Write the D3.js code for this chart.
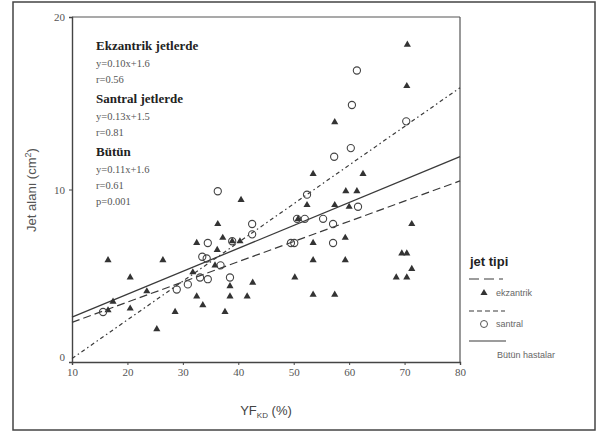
<!DOCTYPE html>
<html>
<head>
<meta charset="utf-8">
<script src="https://cdn.jsdelivr.net/npm/d3@7"></script>
<style>
  body { margin: 0; background: #fff; }
  svg { display: block; }
</style>
</head>
<body>
<svg id="chart" width="600" height="432"></svg>
<script>
// ekzantrik jets (filled triangles) [YF_KD %, jet area cm2]
const ekzantrik = [
  [16.5,5.9],[26.4,5.9],[20.5,4.9],[17.4,3.5],[16.5,3.0],[20.5,3.1],[23.5,4.1],
  [28.6,2.9],[25.3,1.9],[32.5,3.8],[33.6,3.3],[37.6,2.9],[38.5,3.8],[41.6,3.8],
  [38.5,4.4],[42.6,4.6],[32.5,6.9],[31.8,5.2],[37.2,7.2],[40.3,7.0],[36.2,6.5],
  [36.3,8.0],[40.5,9.4],[38.9,7.0],[35.8,5.6],[50.2,4.9],[53.5,3.9],[57.4,3.9],
  [53.5,5.9],[53.5,6.9],[59.3,5.9],[59.3,7.2],[57.4,9.1],[59.4,9.9],[61.4,9.9],
  [62.5,10.9],[53.5,10.9],[57.4,13.9],[70.5,18.4],[70.4,16.0],[71.3,8.0],
  [69.5,6.3],[70.4,6.3],[71.3,5.4],[68.5,4.9],[70.4,4.9],[50.8,8.3],[52.4,9.1],
  [60.0,9.0]
];
// santral jets (open circles)
const santral = [
  [15.6,2.9],[28.9,4.2],[30.9,4.5],[33.1,4.9],[34.5,4.8],[38.5,4.9],[33.5,6.1],
  [34.3,6.0],[36.8,5.6],[34.5,6.9],[36.3,9.9],[38.9,7.0],[42.5,8.0],[42.5,7.4],
  [49.5,6.9],[50.1,6.9],[50.6,8.3],[52.0,8.3],[52.4,9.7],[55.3,8.3],[57.1,8.0],
  [57.1,6.9],[61.6,9.0],[61.4,16.9],[60.5,14.9],[70.3,13.95],[60.3,12.4],[57.3,11.9]
];
// fitted lines as drawn (end points)
const lineEkz = [[10,2.3],[80,10.5]];
const lineSan = [[10,0.2],[80,15.9]];
const lineAll = [[10,2.6],[80,11.9]];

const xTicks = [10,20,30,40,50,60,70,80];
const yTicks = [0,10,20];

const notes = [
  {t: "Ekzantrik jetlerde", b: true},
  {t: "y=0.10x+1.6"}, {t: "r=0.56"},
  {t: "Santral jetlerde", b: true},
  {t: "y=0.13x+1.5"}, {t: "r=0.81"},
  {t: "Bütün", b: true},
  {t: "y=0.11x+1.6"}, {t: "r=0.61"}, {t: "p=0.001"}
];

const svg = d3.select('#chart');
const ink = '#3a3a3a';

// outer frame
svg.append('rect').attr('x',13).attr('y',2).attr('width',582).attr('height',428)
  .attr('fill','none').attr('stroke','#444').attr('stroke-width',1.5);

const x = d3.scaleLinear().domain([10,80]).range([72,460]);
const y = d3.scaleLinear().domain([0,20]).range([362,17]);

// plot box
svg.append('line').attr('x1',72).attr('x2',460).attr('y1',17).attr('y2',17)
  .attr('stroke','#555').attr('stroke-width',1.2);
svg.append('line').attr('x1',460).attr('x2',460).attr('y1',17).attr('y2',362)
  .attr('stroke','#555').attr('stroke-width',1.2);

const xAxis = svg.append('g').attr('transform','translate(0,362)')
  .call(d3.axisBottom(x).tickValues(xTicks).tickSize(3).tickPadding(3));
const yAxis = svg.append('g').attr('transform','translate(72,0)')
  .call(d3.axisLeft(y).tickValues(yTicks).tickSize(3).tickPadding(4));
[xAxis, yAxis].forEach(g => {
  g.select('.domain').attr('stroke','#444').attr('stroke-width',1.4);
  g.selectAll('.tick line').attr('stroke','#444');
  g.selectAll('.tick text').attr('fill','#555')
    .style('font-family','Liberation Serif, serif').style('font-size','11px');
});
// the "0" label sits a little above the corner in the original
yAxis.selectAll('.tick text').filter(d => d === 0).attr('dy','-0.1em');

// regression lines
const ln = d3.line().x(d => x(d[0])).y(d => y(d[1]));
svg.append('path').datum(lineAll).attr('d',ln).attr('fill','none')
  .attr('stroke',ink).attr('stroke-width',1.3);
svg.append('path').datum(lineEkz).attr('d',ln).attr('fill','none')
  .attr('stroke',ink).attr('stroke-width',1.2).attr('stroke-dasharray','8,4');
svg.append('path').datum(lineSan).attr('d',ln).attr('fill','none')
  .attr('stroke',ink).attr('stroke-width',1.2).attr('stroke-dasharray','4,3,1.5,3');

// points
const tri = d3.symbol().type(d3.symbolTriangle).size(22);
svg.append('g').selectAll('path').data(ekzantrik).enter().append('path')
  .attr('d',tri).attr('transform',d => `translate(${x(d[0])},${y(d[1])})`)
  .attr('fill','#333');
svg.append('g').selectAll('circle').data(santral).enter().append('circle')
  .attr('cx',d => x(d[0])).attr('cy',d => y(d[1])).attr('r',3.6)
  .attr('fill','none').attr('stroke','#444').attr('stroke-width',1.1);

// annotations
const ann = svg.append('g').style('font-family','Liberation Serif, serif');
let yy = 50, prevBold = null;
notes.forEach(n => {
  if (prevBold !== null) yy += n.b ? 20 : (prevBold ? 17 : 16);
  ann.append('text').attr('x',96).attr('y',yy).text(n.t)
    .attr('fill', n.b ? '#222' : '#555')
    .style('font-weight', n.b ? 'bold' : 'normal')
    .style('font-size', n.b ? '13px' : '10.5px');
  prevBold = !!n.b;
});

// axis titles
svg.append('text').attr('transform','translate(36,190) rotate(-90)')
  .attr('text-anchor','middle').attr('fill','#555')
  .style('font-family','Liberation Sans, Arial, sans-serif').style('font-size','13px')
  .html('Jet alanı (cm<tspan dy="-5" font-size="9">2</tspan><tspan dy="5">)</tspan>');
svg.append('text').attr('x',266).attr('y',415).attr('text-anchor','middle').attr('fill','#444')
  .style('font-family','Liberation Sans, Arial, sans-serif').style('font-size','13px')
  .html('YF<tspan dy="3" font-size="8">KD</tspan><tspan dy="-3"> (%)</tspan>');

// legend
const lg = svg.append('g').style('font-family','Liberation Sans, Arial, sans-serif');
lg.append('text').attr('x',470).attr('y',266).text('jet tipi')
  .attr('fill','#222').style('font-weight','bold').style('font-size','13px');
lg.append('line').attr('x1',469).attr('x2',503).attr('y1',279).attr('y2',279)
  .attr('stroke',ink).attr('stroke-width',1.2).attr('stroke-dasharray','10,5');
lg.append('path').attr('d',tri).attr('transform','translate(484,293)').attr('fill','#333');
lg.append('text').attr('x',496).attr('y',296).text('ekzantrik').attr('fill','#666').style('font-size','9px');
lg.append('line').attr('x1',469).attr('x2',505).attr('y1',311).attr('y2',311)
  .attr('stroke',ink).attr('stroke-width',1.2).attr('stroke-dasharray','5,3');
lg.append('circle').attr('cx',484).attr('cy',324).attr('r',3.5)
  .attr('fill','none').attr('stroke','#555');
lg.append('text').attr('x',496).attr('y',327).text('santral').attr('fill','#666').style('font-size','9px');
lg.append('line').attr('x1',469).attr('x2',506).attr('y1',341).attr('y2',341)
  .attr('stroke',ink).attr('stroke-width',1.2);
lg.append('text').attr('x',497).attr('y',358).text('Bütün hastalar').attr('fill','#666').style('font-size','9px');
</script>
</body>
</html>
